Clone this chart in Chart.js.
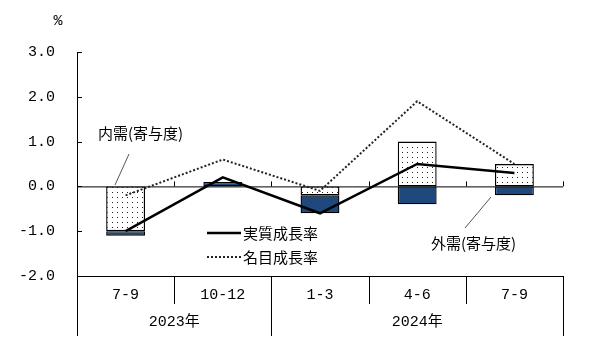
<!DOCTYPE html>
<html lang="ja">
<head>
<meta charset="utf-8">
<script src="https://cdn.jsdelivr.net/npm/chart.js@4.4.1/dist/chart.umd.min.js"></script>
<style>
  html, body { margin: 0; padding: 0; background: #fff; }
  canvas { display: block; }
</style>
</head>
<body>
<canvas id="gdp" width="606" height="346"></canvas>
<script>
// 四半期ラベルと年
const quarters = ['7-9', '10-12', '1-3', '4-6', '7-9'];
const years = ['2023年', '2024年'];
const yearSpans = [2, 3];

// 前期比寄与度(%)
const domesticDemand = [-1.0, 0.0, -0.2, 1.0, 0.5];
const externalDemand = [-0.1, 0.1, -0.4, -0.4, -0.2];

// 成長率(%)
const realGrowth = [-1.0, 0.2, -0.6, 0.5, 0.3];
const nominalGrowth = [-0.2, 0.6, -0.1, 1.9, 0.5];

const NUM_FONT = "'Liberation Mono', 'Noto Sans CJK JP', monospace";
const JP_FONT = "'Noto Sans CJK JP', sans-serif";
const NAVY = '#1F497D';

// 内需の網掛け(点描)パターン
function dotPattern() {
  const c = document.createElement('canvas');
  c.width = 5; c.height = 5;
  const g = c.getContext('2d');
  g.fillStyle = '#fff';
  g.fillRect(0, 0, 5, 5);
  g.fillStyle = '#222';
  g.fillRect(2, 2, 1, 1);
  return g.createPattern(c, 'repeat');
}

// 軸まわりの装飾:ゼロ線、内向き目盛、下部の区切り表、注記と凡例
const decorations = {
  id: 'decorations',
  beforeDatasetsDraw(chart) {
    const { ctx, chartArea: a, scales: { x, y } } = chart;
    const y0 = y.getPixelForValue(0);
    const half = (x.getPixelForValue(1) - x.getPixelForValue(0)) / 2;
    ctx.save();
    ctx.strokeStyle = '#000';
    ctx.lineWidth = 1;
    ctx.beginPath();
    ctx.moveTo(a.left, y0 + 0.5);
    ctx.lineTo(a.right, y0 + 0.5);
    // ゼロ線上の区切り目盛(上向き)
    for (let i = 0; i < quarters.length; i++) {
      const bx = Math.round(x.getPixelForValue(i) + half) + 0.5;
      ctx.moveTo(bx, y0);
      ctx.lineTo(bx, y0 - 5);
    }
    // y軸の内向き目盛
    y.ticks.forEach(t => {
      const py = Math.round(y.getPixelForValue(t.value)) + 0.5;
      ctx.moveTo(a.left, py);
      ctx.lineTo(a.left + 5, py);
    });
    ctx.stroke();
    ctx.restore();
  },
  afterDraw(chart) {
    const { ctx, chartArea: a, scales: { x, y } } = chart;
    const half = (x.getPixelForValue(1) - x.getPixelForValue(0)) / 2;
    const rowBottom = a.bottom + 28;
    const tableBottom = a.bottom + 60;
    ctx.save();
    ctx.strokeStyle = '#000';
    ctx.lineWidth = 1;
    ctx.beginPath();
    // 左右の枠線
    ctx.moveTo(Math.round(a.left) + 0.5, a.bottom);
    ctx.lineTo(Math.round(a.left) + 0.5, tableBottom);
    // 四半期・年の区切り線
    let idx = 0;
    const groupEnds = new Set();
    yearSpans.forEach(s => { idx += s; groupEnds.add(idx - 1); });
    for (let i = 0; i < quarters.length; i++) {
      const bx = Math.round(x.getPixelForValue(i) + half) + 0.5;
      ctx.moveTo(bx, a.bottom);
      ctx.lineTo(bx, groupEnds.has(i) ? tableBottom : rowBottom);
    }
    ctx.stroke();

    // 年ラベル
    ctx.fillStyle = '#000';
    ctx.font = `15px ${NUM_FONT}`;
    ctx.textAlign = 'center';
    ctx.textBaseline = 'middle';
    let start = 0;
    years.forEach((yr, k) => {
      const end = start + yearSpans[k] - 1;
      const left = x.getPixelForValue(start) - half;
      const right = x.getPixelForValue(end) + half;
      ctx.fillText(yr, (left + right) / 2, a.bottom + 46);
      start = end + 1;
    });

    // 単位
    ctx.fillText('%', 58, 21);

    // 注記
    ctx.font = `15px ${JP_FONT}`;
    ctx.textAlign = 'left';
    ctx.fillText('内需(寄与度)', 98, 133);
    ctx.fillText('外需(寄与度)', 431, 243);
    ctx.strokeStyle = '#555';
    ctx.beginPath();
    ctx.moveTo(129, 154);
    ctx.lineTo(115, 185);
    ctx.moveTo(465, 228);
    ctx.lineTo(491, 197);
    ctx.stroke();

    // 凡例
    const legendRows = [chart.data.datasets[2], chart.data.datasets[3]];
    legendRows.forEach((ds, k) => {
      const ly = 233 + k * 24;
      ctx.save();
      ctx.strokeStyle = ds.borderColor;
      ctx.lineWidth = ds.borderWidth;
      ctx.setLineDash(ds.borderDash || []);
      ctx.beginPath();
      ctx.moveTo(207, ly);
      ctx.lineTo(241, ly);
      ctx.stroke();
      ctx.restore();
      ctx.fillStyle = '#000';
      ctx.fillText(ds.label, 243, ly);
    });
    ctx.restore();
  }
};

new Chart(document.getElementById('gdp'), {
  data: {
    labels: quarters,
    datasets: [
      {
        type: 'bar', label: '内需(寄与度)', data: domesticDemand, stack: 'demand', order: 1,
        backgroundColor: dotPattern(), borderColor: '#000', borderWidth: 1.4, borderSkipped: false,
        barPercentage: 0.4, categoryPercentage: 1.0
      },
      {
        type: 'bar', label: '外需(寄与度)', data: externalDemand, stack: 'demand', order: 1,
        backgroundColor: NAVY, borderColor: '#000', borderWidth: 1.4, borderSkipped: false,
        barPercentage: 0.4, categoryPercentage: 1.0
      },
      {
        type: 'line', label: '実質成長率', data: realGrowth, stack: 'real', order: 0,
        borderColor: '#000', borderWidth: 2.5, pointRadius: 0, tension: 0, fill: false
      },
      {
        type: 'line', label: '名目成長率', data: nominalGrowth, stack: 'nominal', order: 0,
        borderColor: '#222', borderWidth: 2, borderDash: [2, 2], pointRadius: 0, tension: 0, fill: false
      }
    ]
  },
  options: {
    responsive: false,
    animation: false,
    devicePixelRatio: 1,
    layout: { padding: { top: 52, right: 43, bottom: 0, left: 0 } },
    plugins: { legend: { display: false }, tooltip: { enabled: false } },
    scales: {
      x: {
        stacked: true,
        grid: { display: false, drawTicks: false },
        border: { display: true, color: '#000', width: 1 },
        ticks: { color: '#000', font: { family: NUM_FONT, size: 15 }, padding: 10, maxRotation: 0, autoSkip: false },
        afterFit(s) { s.height = 70; }
      },
      y: {
        stacked: true,
        min: -2, max: 3,
        grid: { display: false, drawTicks: false },
        border: { display: true, color: '#000', width: 1 },
        ticks: { stepSize: 1, color: '#000', font: { family: NUM_FONT, size: 15 }, padding: 22,
                 callback: v => Number(v).toFixed(1) },
        afterFit(s) { s.width = 77; }
      }
    }
  },
  plugins: [decorations]
});
</script>
</body>
</html>
